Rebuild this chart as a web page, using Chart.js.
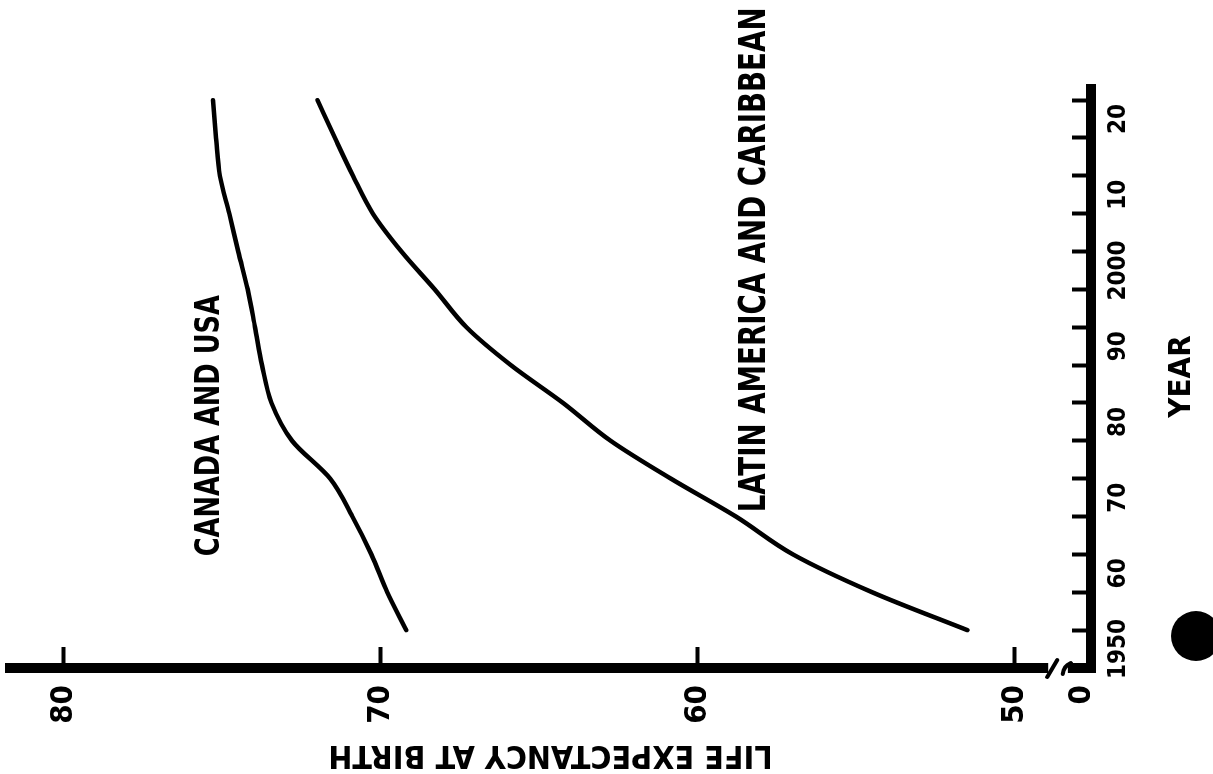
<!DOCTYPE html>
<html>
<head>
<meta charset="utf-8">
<title>Life expectancy at birth</title>
<script src="https://cdn.jsdelivr.net/npm/chart.js@4.4.1/dist/chart.umd.min.js"></script>
<style>
  html, body { margin: 0; padding: 0; background: #fff; overflow: hidden; }
  body { width: 1213px; height: 774px; position: relative; }
  /* the scanned page is turned a quarter turn, so the chart is drawn upright and rotated */
  #wrap {
    position: absolute; left: 0; top: 0;
    width: 774px; height: 1213px;
    transform-origin: 0 0;
    transform: translate(0, 774px) rotate(-90deg);
  }
  /* punch hole of the scanned sheet */
  #punch {
    position: absolute; left: 1171px; top: 611px;
    width: 50px; height: 50px; border-radius: 50%; background: #000;
  }
</style>
</head>
<body>
<div id="wrap"><canvas id="chart" width="774" height="1213"></canvas></div>
<div id="punch"></div>
<script>
// five-year period midpoints
const years = [1952.5, 1957.5, 1962.5, 1967.5, 1972.5, 1977.5, 1982.5, 1987.5,
               1992.5, 1997.5, 2002.5, 2007.5, 2012.5, 2017.5, 2022.5];

const canadaUsa = [69.2, 69.8, 70.3, 70.9, 71.6, 72.8, 73.45, 73.75,
                   73.97, 74.2, 74.5, 74.78, 75.08, 75.2, 75.3];

const latinAmerica = [51.5, 54.5, 57.0, 58.8, 60.85, 62.75, 64.25, 65.9,
                      67.3, 68.3, 69.35, 70.25, 70.88, 71.45, 72.0];

const yearMarks = years;
const yearLabels = [1950, 1960, 1970, 1980, 1990, 2000, 2010, 2020];
const lifeTicks = [50, 60, 70, 80];
const zeroTick = 47.9;          // "0" below the axis break

const FONT = '"Liberation Sans Narrow", "DejaVu Sans Condensed", "Arial Narrow", sans-serif';
const clear = "rgba(0,0,0,0)";

function yearText(v){
    if(v === 1950 || v === 2000){
        return String(v);
    }
    return String(v).slice(2);
}

const seriesNotes = [
    { text: "CANADA AND USA", year: 1979.5, life: 75.4, size: 34, squeeze: 0.84 },
    { text: "LATIN AMERICA AND CARIBBEAN", year: 2001.4, life: 58.2, size: 37, squeeze: 0.83 }
];

const notesPlugin = {
    id: "notes",
    afterDatasetsDraw(chart){
        const ctx = chart.ctx;
        const xs = chart.scales.x;
        const ys = chart.scales.y;
        seriesNotes.forEach(n => {
            ctx.save();
            ctx.fillStyle = "#000";
            ctx.textAlign = "center";
            ctx.textBaseline = "middle";
            ctx.font = "bold " + n.size + "px " + FONT;
            ctx.translate(xs.getPixelForValue(n.year), ys.getPixelForValue(n.life));
            ctx.scale(n.squeeze, 1);
            ctx.fillText(n.text, 0, 0);
            ctx.restore();
        });
    }
};

// break in the life expectancy axis between 0 and 50
const breakPlugin = {
    id: "axisBreak",
    afterDraw(chart){
        const ctx = chart.ctx;
        const ys = chart.scales.y;
        const x0 = chart.chartArea.left;
        const a = ys.getPixelForValue(48.95);
        const b = ys.getPixelForValue(48.33);
        ctx.save();
        ctx.fillStyle = "#fff";
        ctx.fillRect(x0 - 7, a, 14, b - a);
        ctx.strokeStyle = "#000";
        ctx.lineWidth = 4;
        ctx.lineCap = "round";
        ctx.beginPath();
        ctx.moveTo(x0 - 9, a - 1);
        ctx.lineTo(x0 + 8, a + 9);
        ctx.moveTo(x0 - 6, b - 5);
        ctx.quadraticCurveTo(x0 + 2, b - 4, x0 + 5, b + 3);
        ctx.stroke();
        ctx.restore();
    }
};

Chart.defaults.font.family = FONT;
Chart.defaults.font.weight = "bold";
Chart.defaults.color = "#000";

new Chart(document.getElementById("chart"), {
    type: "line",
    data: {
        labels: years,
        datasets: [
            {
                label: "CANADA AND USA",
                data: years.map((y, i) => ({ x: y, y: canadaUsa[i] })),
                borderColor: "#000",
                borderWidth: 4.5,
                borderCapStyle: "round",
                pointRadius: 0,
                cubicInterpolationMode: "monotone"
            },
            {
                label: "LATIN AMERICA AND CARIBBEAN",
                data: years.map((y, i) => ({ x: y, y: latinAmerica[i] })),
                borderColor: "#000",
                borderWidth: 4.5,
                borderCapStyle: "round",
                pointRadius: 0,
                cubicInterpolationMode: "monotone"
            }
        ]
    },
    options: {
        responsive: false,
        animation: false,
        layout: { padding: { left: 0, right: 85, top: 10, bottom: 0 } },
        plugins: {
            legend: { display: false },
            tooltip: { enabled: false }
        },
        scales: {
            x: {
                type: "linear",
                min: 1947.5,
                max: 2024.5,
                border: { display: true, width: 10, color: "#000" },
                grid: {
                    drawOnChartArea: false,
                    drawTicks: true,
                    tickLength: -19,
                    tickWidth: 4,
                    tickColor: c => (c.tick && c.tick.mark) ? "#000" : clear
                },
                afterBuildTicks: s => {
                    s.ticks = yearMarks.map(v => ({ value: v, mark: true }))
                        .concat(yearLabels.map(v => ({ value: v })))
                        .sort((p, q) => p.value - q.value);
                },
                ticks: {
                    autoSkip: false,
                    maxRotation: 0,
                    minRotation: 0,
                    padding: 32,
                    font: { size: 24 },
                    callback: (value, i, ticks) => ticks[i].mark ? "" : yearText(value)
                },
                title: {
                    display: true,
                    text: "YEAR",
                    font: { size: 31 },
                    padding: { top: 0, bottom: 12 }
                },
                afterFit: s => {
                    s.height = 122;
                    s.paddingLeft = 0;
                    s.paddingRight = 0;
                }
            },
            y: {
                type: "linear",
                min: 47.6,
                max: 81.7,
                border: { display: true, width: 10, color: "#000" },
                grid: {
                    drawOnChartArea: false,
                    drawTicks: true,
                    tickLength: -21,
                    tickWidth: 4,
                    tickColor: c => (c.tick && c.tick.zero) ? clear : "#000"
                },
                afterBuildTicks: s => {
                    s.ticks = [{ value: zeroTick, zero: true }]
                        .concat(lifeTicks.map(v => ({ value: v })));
                },
                ticks: {
                    autoSkip: false,
                    padding: 38,
                    font: { size: 31 },
                    callback: (value, i, ticks) => ticks[i].zero ? "0" : value
                },
                title: {
                    display: true,
                    text: "LIFE EXPECTANCY AT BIRTH",
                    font: { size: 32 },
                    padding: { top: 0, bottom: 0 }
                },
                afterFit: s => {
                    s.width = 106;
                    s.paddingTop = 0;
                    s.paddingBottom = 0;
                }
            }
        }
    },
    plugins: [notesPlugin, breakPlugin]
});
</script>
</body>
</html>
